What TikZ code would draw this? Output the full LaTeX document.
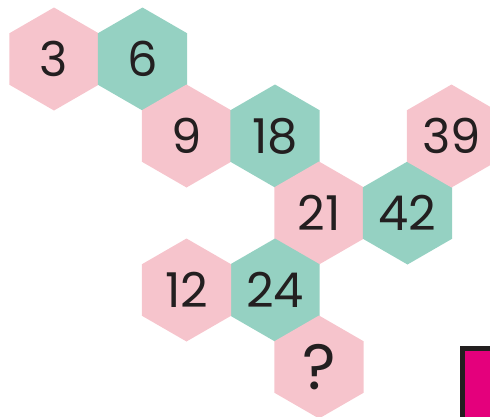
\documentclass[tikz,border=0pt]{standalone}
\usepackage{fontspec}
\setmainfont{Poppins}
\usetikzlibrary{shapes.geometric}
\definecolor{hexpink}{HTML}{F6C4CC}
\definecolor{hexteal}{HTML}{95D1C2}
\definecolor{numink}{HTML}{231F20}
\definecolor{mymagenta}{HTML}{E4007C}
\tikzset{
  hex/.style={regular polygon, regular polygon sides=6, shape border rotate=30,
              minimum size=103pt, inner sep=0pt, outer sep=0pt, text=numink,
              font=\fontsize{48}{52}\selectfont},
  pinkhex/.style={hex, fill=hexpink},
  tealhex/.style={hex, fill=hexteal},
}
\begin{document}
\begin{tikzpicture}[x=1pt, y=-1pt]
    \useasboundingbox (0,0) rectangle (490,416);
    \clip (0,0) rectangle (490,416);
    \node[pinkhex] (n3) at (54,59) {3};
    \node[tealhex] (n6) at (142.5,59) {6};
    \node[pinkhex] (n9) at (186.5,136) {9};
    \node[tealhex] (n18) at (275,136) {18};
    \node[pinkhex] (n21) at (319,213) {21};
    \node[tealhex] (n42) at (407.5,213) {42};
    \node[pinkhex] (n39) at (451.5,136) {39};
    \node[tealhex] (n24) at (275,290) {24};
    \node[pinkhex] (n12) at (186.5,290) {12};
    \node[pinkhex, font=\fontsize{64}{68}\selectfont] (nq) at (319,367) {?};
    \draw[numink, line width=5pt, fill=mymagenta] (462.5,348.5) rectangle (520,440);
  \end{tikzpicture}
\end{document}
